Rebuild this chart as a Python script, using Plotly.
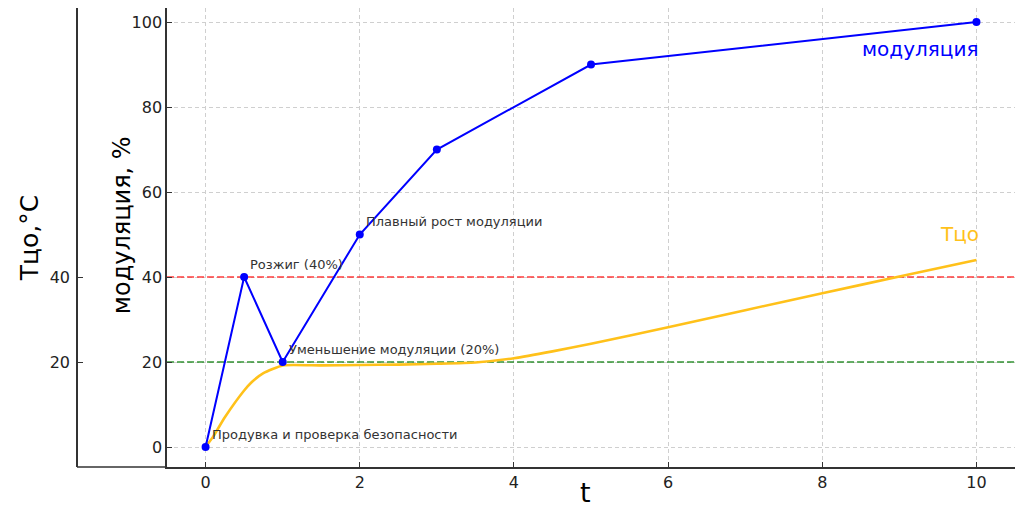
import plotly.graph_objects as go

# Modulation steps (blue markers)
t_mod = [0, 0.5, 1, 2, 3, 5, 10]
modulation = [0, 40, 20, 50, 70, 90, 100]

# Tco temperature curve (yellow)
t_temp = [0, 0.1, 0.25, 0.5, 0.6, 0.75, 1, 1.5, 2, 2.5, 3, 3.5, 4, 4.5, 5, 6, 7, 8, 9, 10]
temp = [0, 2.5, 7.0, 13.3, 15.3, 17.4, 19.2, 19.2, 19.3, 19.4, 19.6, 19.9, 20.9, 22.5, 24.3, 28.2, 32.2, 36.2, 40.1, 44.0]

# Reference levels
ignition_level = 40
reduced_level = 20

# Text notes: (t, y, text)
notes_t = [0.055, 0.555, 1.055, 2.055]
notes_y = [3, 43, 23, 53]
notes_text = ['Продувка и проверка безопасности', 'Розжиг (40%)',
              'Уменьшение модуляции (20%)', 'Плавный рост модуляции']

x_ticks = [0, 2, 4, 6, 8, 10]
y_ticks = [0, 20, 40, 60, 80, 100]
temp_ticks = [20, 40]

FONT = 'DejaVu Sans'
x_range = [-0.5, 10.5]
y_range = [-4.7, 103.3]

fig = go.Figure()

# dashed level lines
fig.add_trace(go.Scatter(x=x_range, y=[ignition_level] * 2, mode='lines',
                         line=dict(color='rgba(255,30,30,0.65)', width=2, dash='7px,3px'),
                         showlegend=False, hoverinfo='skip'))
fig.add_trace(go.Scatter(x=x_range, y=[reduced_level] * 2, mode='lines',
                         line=dict(color='rgba(20,130,20,0.65)', width=2, dash='7px,3px'),
                         showlegend=False, hoverinfo='skip'))

fig.add_trace(go.Scatter(x=t_temp, y=temp, mode='lines',
                         line=dict(color='#ffc11a', width=2.6, shape='spline', smoothing=0.5),
                         showlegend=False))
fig.add_trace(go.Scatter(x=t_mod, y=modulation, mode='lines+markers',
                         line=dict(color='#0000ff', width=2),
                         marker=dict(color='#0000ff', size=8), showlegend=False))

# invisible trace so the outer axis is drawn
fig.add_trace(go.Scatter(x=[None], y=[None], yaxis='y2', showlegend=False))

for tx, ty, txt in zip(notes_t, notes_y, notes_text):
    fig.add_annotation(x=tx, y=ty, text=txt, showarrow=False, xanchor='left', yanchor='middle',
                       font=dict(family=FONT, size=13, color='#333333'))

fig.add_annotation(x=10.05, y=93.7, text='модуляция', showarrow=False, xanchor='right', yanchor='middle',
                   font=dict(family=FONT, size=20, color='#0000ff'))
fig.add_annotation(x=10.06, y=50.2, text='Тцо', showarrow=False, xanchor='right', yanchor='middle',
                   font=dict(family=FONT, size=20, color='#ffc11a'))

# axis titles placed by hand
fig.add_annotation(xref='paper', yref='paper', x=0.5416, y=0, yshift=-25, text='t', showarrow=False,
                   xanchor='center', yanchor='middle', font=dict(family=FONT, size=27, color='black'))
fig.add_annotation(xref='paper', yref='paper', x=0.048, y=0.527, text='модуляция, %', textangle=-90,
                   showarrow=False, xanchor='center', yanchor='middle',
                   font=dict(family=FONT, size=24, color='black'))

# bottom spine continuing under the outer axis
fig.add_shape(type='line', xref='paper', yref='paper', x0=0, x1=0.096, y0=0, y1=0,
              line=dict(color='#333333', width=1.5))

grid = dict(showgrid=True, gridcolor='#cfcfcf', griddash='4px,3px', gridwidth=0.8, zeroline=False)

fig.update_layout(
    width=1016, height=510,
    margin=dict(l=69, r=9, t=0, b=51, autoexpand=False),
    plot_bgcolor='white', paper_bgcolor='white',
    font=dict(family=FONT, size=16, color='#222222'),
    xaxis=dict(domain=[0.096, 1], range=x_range, tickvals=x_ticks, ticks='inside',
               ticklen=5, tickcolor='#333333', showline=True, linecolor='#333333', linewidth=1.5,
               automargin=False, **grid),
    yaxis=dict(range=y_range, tickvals=y_ticks, ticks='inside', ticklen=5, tickcolor='#333333',
               showline=True, linecolor='#333333', linewidth=1.5,
               automargin=False, **grid),
    yaxis2=dict(overlaying='y', anchor='free', position=0, side='left', range=y_range,
                tickvals=temp_ticks, ticks='inside', ticklen=5, tickcolor='#333333',
                showline=True, linecolor='#333333', linewidth=1.5, showgrid=False, zeroline=False,
                ticklabelstandoff=3, automargin=False,
                title=dict(text='Тцо,°C', font=dict(size=25, color='black'), standoff=3)),
)

fig.write_html('out.html')
